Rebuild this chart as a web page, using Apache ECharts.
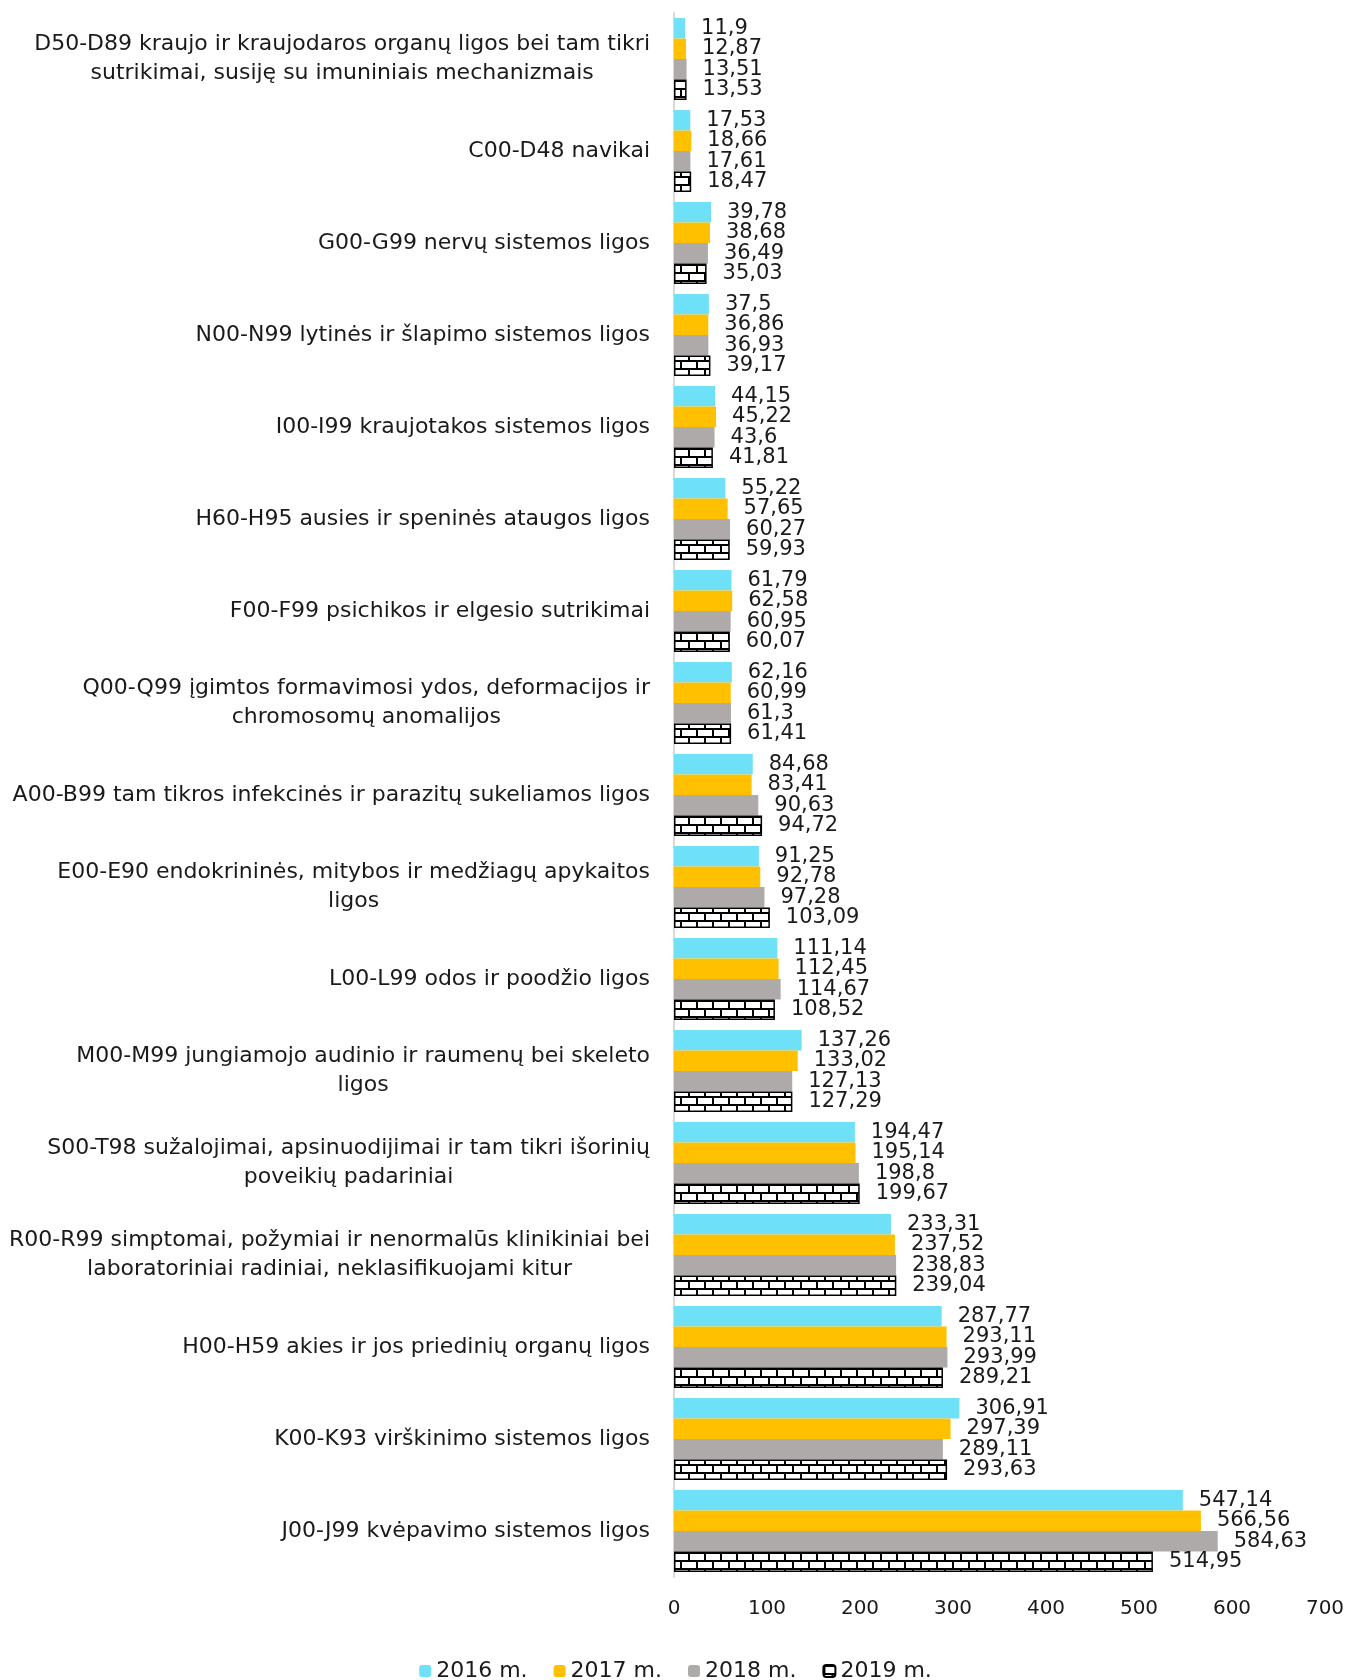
<!DOCTYPE html>
<html>
<head>
<meta charset="utf-8">
<script src="https://cdn.jsdelivr.net/npm/echarts@6/dist/echarts.min.js"></script>
<style>
  html, body { margin: 0; padding: 0; background: #fff; }
  #chart { width: 1351px; height: 1680px; }
</style>
</head>
<body>
<div id="chart"></div>
<script>
// kategorijos (iš viršaus į apačią)
const categories = [
  "D50-D89 kraujo ir kraujodaros organų ligos bei tam tikri\nsutrikimai, susiję su imuniniais mechanizmais",
  "C00-D48 navikai",
  "G00-G99 nervų sistemos ligos",
  "N00-N99 lytinės ir šlapimo sistemos ligos",
  "I00-I99 kraujotakos sistemos ligos",
  "H60-H95 ausies ir speninės ataugos ligos",
  "F00-F99 psichikos ir elgesio sutrikimai",
  "Q00-Q99 įgimtos formavimosi ydos, deformacijos ir\nchromosomų anomalijos",
  "A00-B99 tam tikros infekcinės ir parazitų sukeliamos ligos",
  "E00-E90 endokrininės, mitybos ir medžiagų apykaitos\nligos",
  "L00-L99 odos ir poodžio ligos",
  "M00-M99 jungiamojo audinio ir raumenų bei skeleto\nligos",
  "S00-T98 sužalojimai, apsinuodijimai ir tam tikri išorinių\npoveikių padariniai",
  "R00-R99 simptomai, požymiai ir nenormalūs klinikiniai bei\nlaboratoriniai radiniai, neklasifikuojami kitur",
  "H00-H59 akies ir jos priedinių organų ligos",
  "K00-K93 virškinimo sistemos ligos",
  "J00-J99 kvėpavimo sistemos ligos"
];

const years = ["2016 m.", "2017 m.", "2018 m.", "2019 m."];

const values2016 = [11.9, 17.53, 39.78, 37.5, 44.15, 55.22, 61.79, 62.16, 84.68, 91.25, 111.14, 137.26, 194.47, 233.31, 287.77, 306.91, 547.14];
const values2017 = [12.87, 18.66, 38.68, 36.86, 45.22, 57.65, 62.58, 60.99, 83.41, 92.78, 112.45, 133.02, 195.14, 237.52, 293.11, 297.39, 566.56];
const values2018 = [13.51, 17.61, 36.49, 36.93, 43.6, 60.27, 60.95, 61.3, 90.63, 97.28, 114.67, 127.13, 198.8, 238.83, 293.99, 289.11, 584.63];
const values2019 = [13.53, 18.47, 35.03, 39.17, 41.81, 59.93, 60.07, 61.41, 94.72, 103.09, 108.52, 127.29, 199.67, 239.04, 289.21, 293.63, 514.95];

const xTicks = [0, 100, 200, 300, 400, 500, 600, 700];

const FONT = "DejaVu Sans";

// plytų raštas 2019 m.
function brickPattern() {
  const c = document.createElement("canvas");
  c.width = 16;
  c.height = 16;
  const ctx = c.getContext("2d");
  ctx.fillStyle = "#fff";
  ctx.fillRect(0, 0, 16, 16);
  ctx.fillStyle = "#000";
  ctx.fillRect(0, 0, 16, 2);
  ctx.fillRect(0, 8, 16, 2);
  ctx.fillRect(0, 0, 2, 8);
  ctx.fillRect(8, 8, 2, 8);
  return { image: c, repeat: "repeat" };
}

function fmt(v) {
  return String(v).replace(".", ",");
}

function makeSeries(name, data, color, extra) {
  return Object.assign({
    name: name,
    type: "bar",
    data: data,
    barGap: "0%",
    barCategoryGap: "11%",
    itemStyle: { color: color },
    label: {
      show: true,
      position: "right",
      distance: 16,
      color: "#1a1a1a",
      fontFamily: FONT,
      fontSize: 21,
      formatter: (p) => fmt(p.value)
    }
  }, extra || {});
}

const chart = echarts.init(document.getElementById("chart"));
chart.setOption({
  animation: false,
  textStyle: { fontFamily: FONT },
  grid: { left: 674, right: 26, top: 13, bottom: 103, containLabel: false },
  legend: {
    data: years,
    top: 1655,
    left: "center",
    itemWidth: 12,
    itemHeight: 12,
    itemGap: 26,
    textStyle: { fontFamily: FONT, fontSize: 22, color: "#1a1a1a" }
  },
  xAxis: {
    type: "value",
    min: xTicks[0],
    max: xTicks[xTicks.length - 1],
    interval: 100,
    axisLine: { show: false },
    axisTick: { show: false },
    splitLine: { show: false },
    axisLabel: { margin: 22, fontSize: 20, color: "#1a1a1a", fontFamily: FONT }
  },
  yAxis: {
    type: "category",
    data: categories,
    inverse: true,
    axisLine: { show: true, lineStyle: { color: "#d9d9d9", width: 2 } },
    axisTick: { show: false },
    axisLabel: {
      margin: 24,
      fontSize: 22,
      color: "#1a1a1a",
      fontFamily: FONT,
      lineHeight: 29,
      formatter: (v) => v.split("\n").map((s) => "{c|" + s + "}").join("\n"),
      rich: { c: { align: "center", fontSize: 22, fontFamily: FONT, color: "#1a1a1a", lineHeight: 29 } }
    }
  },
  series: [
    makeSeries(years[0], values2016, "#6EE0F8"),
    makeSeries(years[1], values2017, "#FFC000"),
    makeSeries(years[2], values2018, "#AEAAAA"),
    makeSeries(years[3], values2019, brickPattern(), {
      itemStyle: { color: brickPattern(), borderColor: "#000", borderWidth: 1.5 }
    })
  ]
});
</script>
</body>
</html>
